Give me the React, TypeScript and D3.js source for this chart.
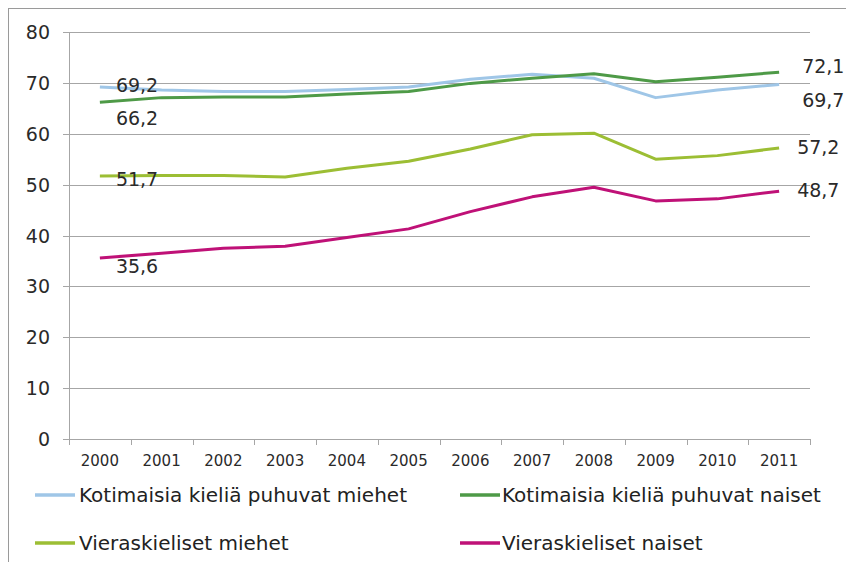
import React from "react";
import * as d3 from "d3";

const years = ["2000","2001","2002","2003","2004","2005","2006","2007","2008","2009","2010","2011"];
const yTicks = [0, 10, 20, 30, 40, 50, 60, 70, 80];

const seriesNames = [
  "Kotimaisia kieliä puhuvat miehet",
  "Kotimaisia kieliä puhuvat naiset",
  "Vieraskieliset miehet",
  "Vieraskieliset naiset",
];
const kotimaisetMiehet = [69.2, 68.6, 68.3, 68.3, 68.7, 69.2, 70.7, 71.7, 70.9, 67.1, 68.6, 69.7];
const kotimaisetNaiset = [66.2, 67.1, 67.2, 67.2, 67.8, 68.3, 69.9, 70.9, 71.8, 70.2, 71.1, 72.1];
const vieraskielisetMiehet = [51.7, 51.8, 51.8, 51.5, 53.2, 54.6, 57.0, 59.8, 60.1, 55.0, 55.7, 57.2];
const vieraskielisetNaiset = [35.6, 36.5, 37.5, 37.9, 39.6, 41.3, 44.7, 47.6, 49.5, 46.8, 47.2, 48.7];

const colors = ["#9fc6e7", "#4e9a47", "#9cbe34", "#bf1177"];

const FONT = "'DejaVu Sans', Verdana, sans-serif";

export default function App() {
  const series = [kotimaisetMiehet, kotimaisetNaiset, vieraskielisetMiehet, vieraskielisetNaiset];
  const left = 69, right = 810, top = 32, bottom = 439;
  const x = d3.scaleBand<string>().domain(years).range([left, right]).paddingInner(0).paddingOuter(0);
  const y = d3.scaleLinear().domain([0, 80]).range([bottom, top]);
  const cx = (yr: string) => (x(yr) as number) + x.bandwidth() / 2;
  const line = d3.line<number>().x((_, i) => cx(years[i])).y((v) => y(v));

  const startDy = [5, 23, 10, 15];
  const endDy = [23, 1, 6, 6];
  const endDx = [23, 23, 18, 18];
  const fmt = (v: number) => v.toFixed(1).replace(".", ",");

  const boundaries = years.map((yr) => x(yr) as number).concat([right]);

  const legendRows = [495, 543];
  const legendCols = [[35, 75, 79], [460, 500, 502]];

  return (
    <svg width={846} height={562} style={{ position: "absolute", left: 0, top: 0, background: "#fff" }} fontFamily={FONT}>
      <rect x={8.5} y={8.5} width={900} height={600} fill="#fff" stroke="#9a9a9a" strokeWidth={1} />
      {yTicks.filter((t) => t > 0).map((t) => (
        <line key={t} x1={left} x2={right} y1={Math.round(y(t)) + 0.5} y2={Math.round(y(t)) + 0.5} stroke="#a6a6a6" strokeWidth={1} />
      ))}
      <line x1={left + 0.5} x2={left + 0.5} y1={top} y2={bottom} stroke="#a6a6a6" />
      {yTicks.map((t) => (
        <g key={"yt" + t}>
          <line x1={left - 6} x2={left} y1={Math.round(y(t)) + 0.5} y2={Math.round(y(t)) + 0.5} stroke="#a6a6a6" />
          <text x={50} y={y(t) + 7} textAnchor="end" fontSize={19} fill="#2a2a2a">{t}</text>
        </g>
      ))}
      <line x1={left} x2={right} y1={bottom + 0.5} y2={bottom + 0.5} stroke="#a6a6a6" />
      {boundaries.map((b, i) => (
        <line key={"xt" + i} x1={Math.round(b) + 0.5} x2={Math.round(b) + 0.5} y1={bottom} y2={bottom + 6} stroke="#a6a6a6" />
      ))}
      {years.map((yr) => (
        <text key={yr} x={cx(yr)} y={466} textAnchor="middle" fontSize={15} fill="#2a2a2a">{yr}</text>
      ))}
      {series.map((s, i) => (
        <path key={"s" + i} d={line(s) || ""} fill="none" stroke={colors[i]} strokeWidth={3} strokeLinejoin="round" />
      ))}
      {series.map((s, i) => (
        <g key={"l" + i}>
          <text x={cx(years[0]) + 16} y={y(s[0]) + startDy[i]} fontSize={19} fill="#2a2a2a">{fmt(s[0])}</text>
          <text x={cx(years[years.length - 1]) + endDx[i]} y={y(s[s.length - 1]) + endDy[i]} fontSize={19} fill="#2a2a2a">{fmt(s[s.length - 1])}</text>
        </g>
      ))}
      {seriesNames.map((name, i) => {
        const row = legendRows[Math.floor(i / 2)];
        const col = legendCols[i % 2];
        return (
          <g key={"lg" + i}>
            <line x1={col[0]} x2={col[1]} y1={row} y2={row} stroke={colors[i]} strokeWidth={3.5} />
            <text x={col[2]} y={row + 7} fontSize={20} fill="#222">{name}</text>
          </g>
        );
      })}
    </svg>
  );
}
